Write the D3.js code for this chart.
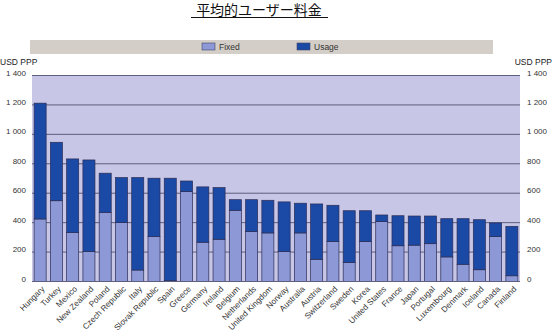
<!DOCTYPE html>
<html><head><meta charset="utf-8">
<script src="https://cdn.jsdelivr.net/npm/d3@7"></script>
<style>body{margin:0;background:#fff;font-family:"Liberation Sans",Arial,sans-serif;}</style>
</head><body><svg id="c" width="552" height="333"></svg>
<script>
const countries = ["Hungary","Turkey","Mexico","New Zealand","Poland","Czech Republic","Italy","Slovak Republic","Spain","Greece","Germany","Ireland","Belgium","Netherlands","United Kingdom","Norway","Australia","Austria","Switzerland","Sweden","Korea","United States","France","Japan","Portugal","Luxembourg","Denmark","Iceland","Canada","Finland"];
const totals = [1212,946,833,826,736,706,706,702,702,683,643,638,556,556,552,541,532,527,518,481,481,452,447,445,445,427,427,420,398,375];
const fixed = [425,549,332,203,470,400,78,305,5,611,267,287,484,339,330,203,330,151,271,130,271,407,243,247,257,167,117,80,305,39];
const usage = totals.map((t,i)=>t-fixed[i]);
const yTicks = [0,200,400,600,800,1000,1200,1400];
const seriesNames = ["Fixed","Usage"];
const colors = {Fixed:"#8c99d6", Usage:"#1a4aa6"};

const svg = d3.select("#c");
const L=32, R=520, T=75.5, B=281.5;
const x = d3.scaleBand().domain(countries).range([L,R]).paddingInner(0.26).paddingOuter(0.13);
const y = d3.scaleLinear().domain([0,1400]).range([B,T]);
const fmt = v => d3.format(",")(v).replace(/,/g," ");

// title
svg.append("text").attr("x",259).attr("y",15).attr("text-anchor","middle")
  .attr("font-family","'Noto Sans CJK JP',sans-serif").attr("font-size",14).attr("fill","#111")
  .text("平均的ユーザー料金");
svg.append("line").attr("x1",191).attr("x2",328).attr("y1",17.5).attr("y2",17.5).attr("stroke","#111").attr("stroke-width",1);

// legend
svg.append("rect").attr("x",30).attr("y",40).attr("width",463).attr("height",14).attr("fill","#d3cfc8");
const lx = [202,297];
seriesNames.forEach((s,i)=>{
  svg.append("rect").attr("x",lx[i]).attr("y",43).attr("width",13).attr("height",7).attr("fill",colors[s]).attr("stroke","#44446a").attr("stroke-width",0.6);
  svg.append("text").attr("x",lx[i]+17).attr("y",50).attr("font-size",8.5).attr("fill","#333").text(s);
});

// plot bg
svg.append("rect").attr("x",L).attr("y",T).attr("width",R-L).attr("height",B-T).attr("fill","#c7c6e6");
// grid
svg.append("g").selectAll("line").data(yTicks).join("line")
  .attr("x1",L).attr("x2",R).attr("y1",d=>y(d)).attr("y2",d=>y(d))
  .attr("stroke","#5e5e7e").attr("stroke-width",1);

// axes labels
const yl = d3.axisLeft(y).tickValues(yTicks).tickFormat(fmt).tickSize(0).tickPadding(6);
const gl = svg.append("g").attr("transform",`translate(${L},-3)`).call(yl);
gl.select(".domain").remove();
gl.selectAll("text").attr("font-size",8).attr("fill","#333").attr("font-family","'Liberation Sans',Arial,sans-serif");
const yr = d3.axisRight(y).tickValues(yTicks).tickFormat(fmt).tickSize(0).tickPadding(7);
const gr = svg.append("g").attr("transform",`translate(${R},-3)`).call(yr);
gr.select(".domain").remove();
gr.selectAll("text").attr("font-size",8).attr("fill","#333").attr("font-family","'Liberation Sans',Arial,sans-serif");

svg.append("text").attr("x",0).attr("y",65).attr("font-size",8.5).attr("fill","#222").text("USD PPP");
svg.append("text").attr("x",552).attr("y",65).attr("text-anchor","end").attr("font-size",8.5).attr("fill","#222").text("USD PPP");

// bars
const stack = d3.stack().keys(seriesNames)(countries.map((c,i)=>({c, Fixed:fixed[i], Usage:usage[i]})));
svg.append("g").selectAll("g").data(stack).join("g").attr("fill",d=>colors[d.key])
  .selectAll("rect").data(d=>d).join("rect")
  .attr("x",d=>x(d.data.c)).attr("width",x.bandwidth())
  .attr("y",d=>y(d[1])).attr("height",d=>y(d[0])-y(d[1]))
  .attr("stroke","#2c2c55").attr("stroke-width",0.7);

// baseline
svg.append("line").attr("x1",L).attr("x2",R).attr("y1",B).attr("y2",B).attr("stroke","#5e5e7e");

// x labels
const xa = d3.axisBottom(x).tickSize(0).tickPadding(0);
const gx = svg.append("g").attr("transform",`translate(0,${B})`).call(xa);
gx.select(".domain").remove();
gx.selectAll("text").attr("font-size",8.2).attr("fill","#333").attr("font-family","'Liberation Sans',Arial,sans-serif")
  .attr("text-anchor","end").attr("dy",0)
  .attr("transform","translate(5,8) rotate(-45)");
</script></body></html>
